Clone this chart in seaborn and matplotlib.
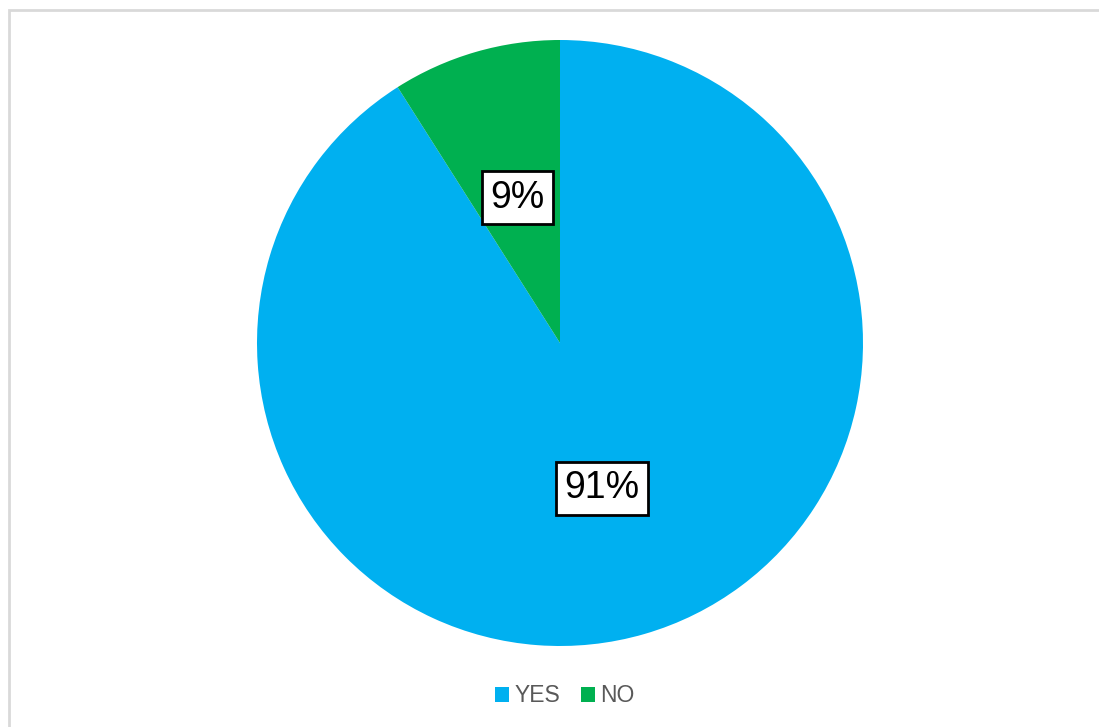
import matplotlib
matplotlib.use("Agg")
import matplotlib.pyplot as plt
from matplotlib.patches import Rectangle, Patch
import seaborn as sns

categories = ["YES", "NO"]
values = [91, 9]
colors = ["#00B0F0", "#00B050"]

sns.set_theme(style="white")
plt.rcParams['font.family'] = ['Liberation Sans', 'DejaVu Sans']

W, H = 1099, 727
fig = plt.figure(figsize=(W / 100, H / 100), dpi=100)
fig.patch.set_facecolor("white")

cx, cy, r = 560, 343, 303
ax = fig.add_axes([(cx - r) / W, (H - cy - r) / H, 2 * r / W, 2 * r / H])
wedges, texts, autotexts = ax.pie(
    values, colors=colors, startangle=90, counterclock=False,
    autopct=lambda p: f"{p:.0f}%", pctdistance=0.5, radius=1,
    wedgeprops=dict(linewidth=0),
    textprops=dict(fontsize=27, color="black"))
for t in autotexts:
    t.set_bbox(dict(facecolor="white", edgecolor="black", linewidth=2, boxstyle="square,pad=0.22"))
ax.set_xlim(-1, 1)
ax.set_ylim(-1, 1)
ax.set_aspect("equal")
ax.axis("off")

handles = [Patch(facecolor=c, edgecolor="none") for c in colors]
leg = fig.legend(handles, categories, loc="center", ncol=2,
                 bbox_to_anchor=(565 / W, 1 - 696 / H), frameon=False,
                 fontsize=16.5, handlelength=0.6, handleheight=0.6,
                 handletextpad=0.25, columnspacing=0.9)
for t in leg.get_texts():
    t.set_color("#595959")

fig.patches.append(Rectangle((9 / W, -0.05), 1.1, 1 - 10 / H + 0.05,
                             transform=fig.transFigure, fill=False,
                             edgecolor="#d9d9d9", linewidth=2))

fig.savefig("out.png", dpi=100)
